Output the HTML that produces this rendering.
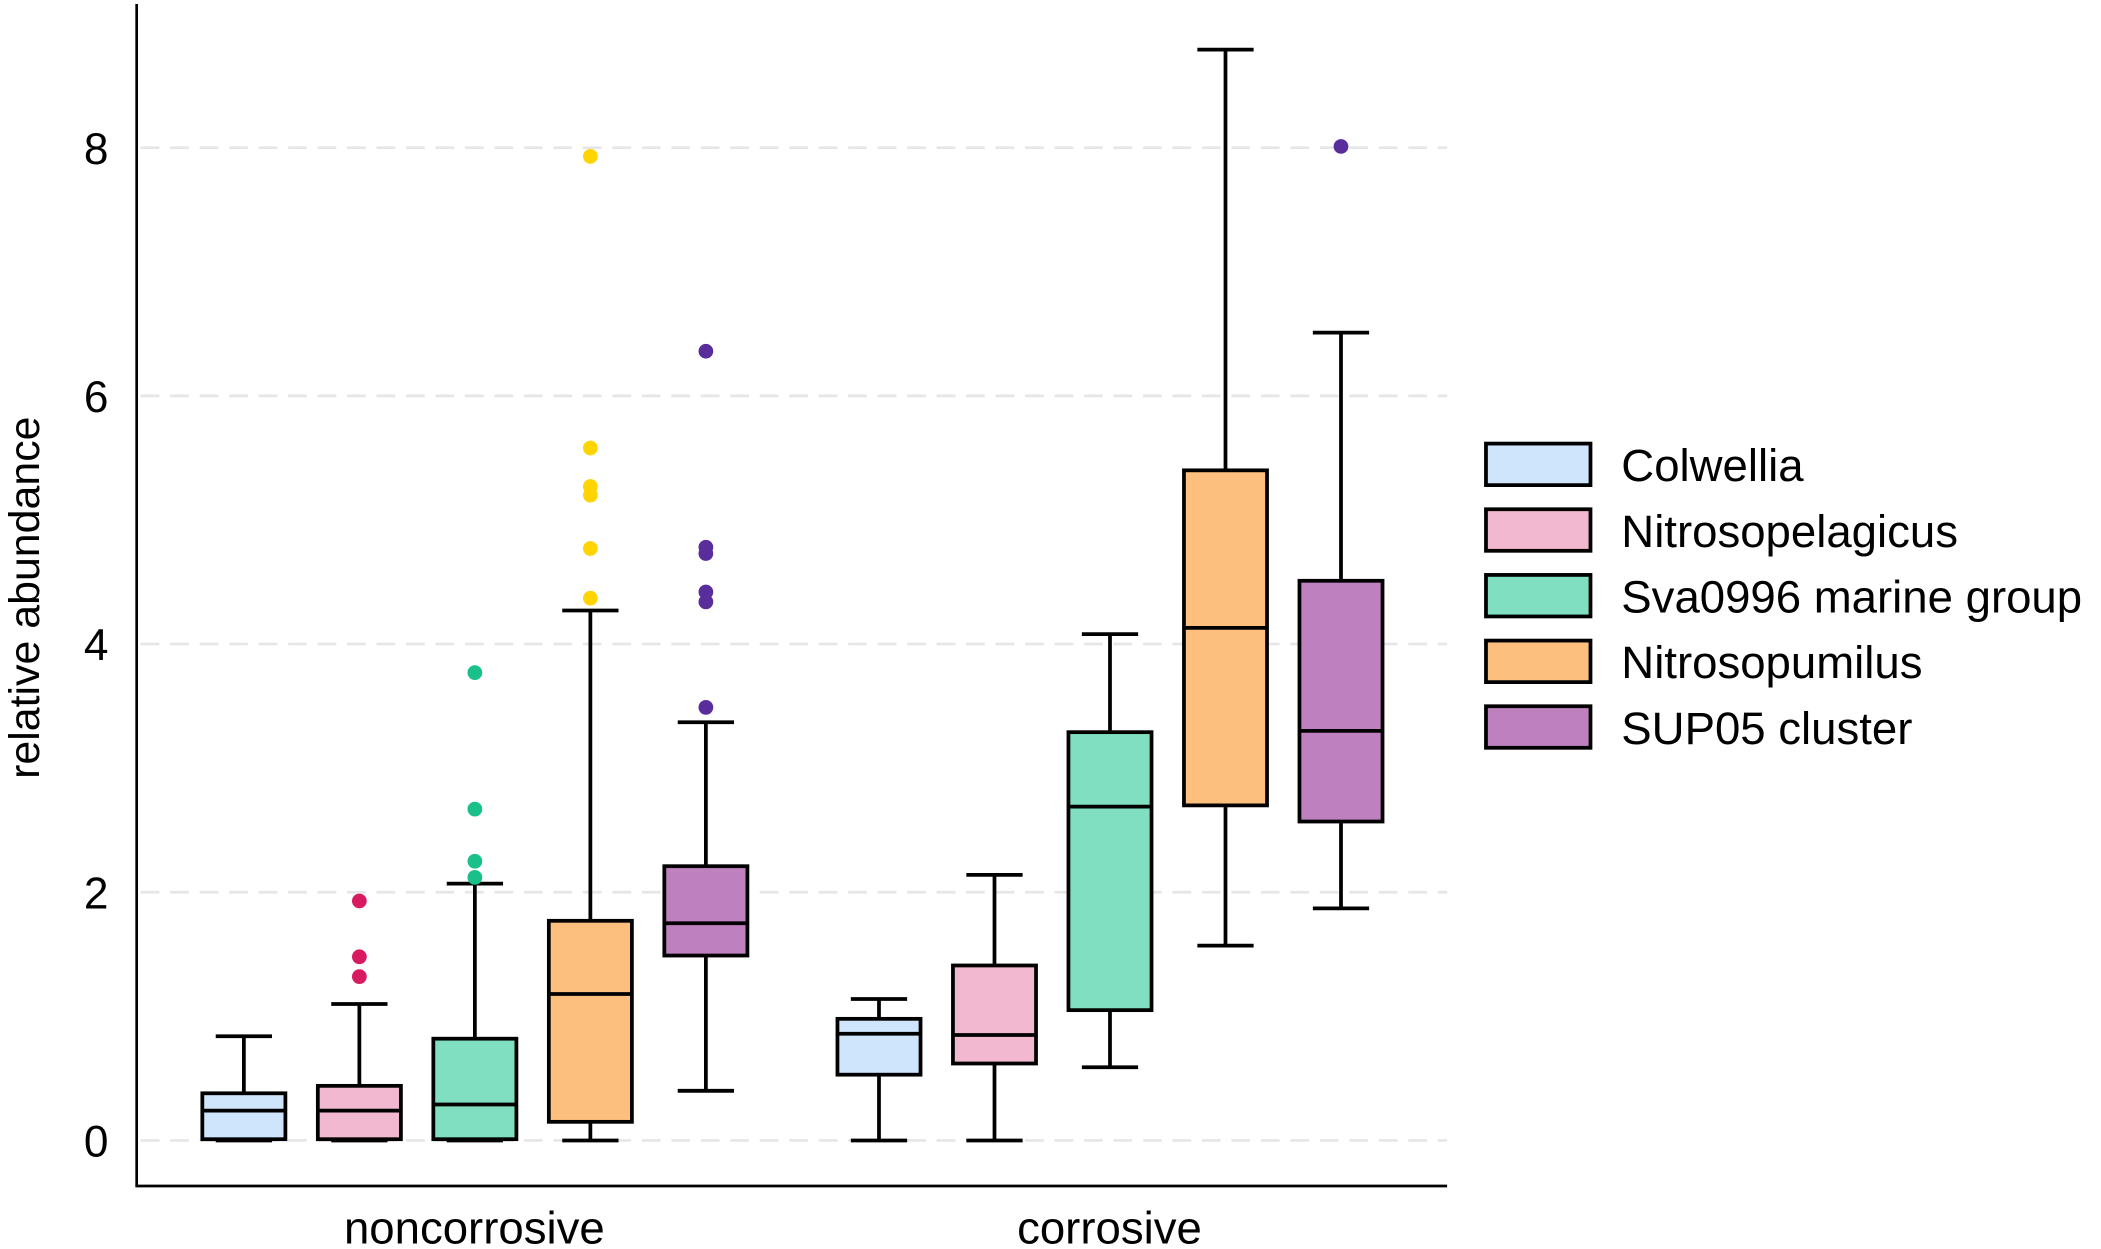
<!DOCTYPE html>
<html><head><meta charset="utf-8"><style>
html,body{margin:0;padding:0;background:#fff;}
svg{display:block;font-family:"Liberation Sans",Arial,sans-serif;}
</style></head><body>
<svg id="chart" width="2101" height="1249" viewBox="0 0 1568 932" preserveAspectRatio="none" xmlns="http://www.w3.org/2000/svg">
<g id="grid"></g><g id="marks"></g><g id="axes"></g><g id="legend"></g>
</svg>
<script>
const groups = ["noncorrosive","corrosive"];
const taxa = ["Colwellia","Nitrosopelagicus","Sva0996 marine group","Nitrosopumilus","SUP05 cluster"];
const fills = ["#cfe5fb","#f1b8cf","#80dfc0","#fdbf7e","#bf80bf"];
const outColors = ["#6fa8dc","#d81b60","#1ac08a","#ffd400","#5a2d9c"];
const yTicks = [0,2,4,6,8];
// [min, q1, median, q3, max] per group per taxon
const ncStats = [[0,0.01,0.24,0.38,0.84],[0,0.01,0.24,0.44,1.10],[0,0.01,0.29,0.82,2.07],[0,0.15,1.18,1.77,4.27],[0.40,1.49,1.75,2.21,3.37]];
const coStats = [[0,0.53,0.86,0.98,1.14],[0,0.62,0.85,1.41,2.14],[0.59,1.05,2.69,3.29,4.08],[1.57,2.70,4.13,5.40,8.79],[1.87,2.57,3.30,4.51,6.51]];
const ncOutliers = [[],[1.93,1.48,1.32],[3.77,2.67,2.25,2.12],[7.93,5.58,5.27,5.20,4.77,4.37],[6.36,4.78,4.73,4.42,4.34,3.49]];
const coOutliers = [[],[],[],[],[8.01]];

const NS="http://www.w3.org/2000/svg";
function mk(tag,attrs,parent){const e=document.createElementNS(NS,tag);for(const k in attrs)e.setAttribute(k,attrs[k]);parent.appendChild(e);return e;}
const y = v => 851 - v*92.6;
const groupStart = [182,656], step = 86.2;
const x = (g,i) => groupStart[g] + i*step;
const grid=document.getElementById('grid'), marks=document.getElementById('marks'), axes=document.getElementById('axes'), legend=document.getElementById('legend');
const SW=2.8;

yTicks.forEach(t=>{
  const l=mk('line',{x1:105,x2:1080,y1:y(t),y2:y(t),stroke:'#e6e6e6','stroke-width':2,'stroke-dasharray':'14,8'},grid);
  
  
  const tx=mk('text',{x:81,y:y(t)+12,'text-anchor':'end','font-size':33,fill:'#000'},axes);
  tx.textContent=t;
  
  
});

[ncStats,coStats].forEach((stats,g)=>{
  const outs = g===0?ncOutliers:coOutliers;
  stats.forEach((s,i)=>{
    const cx=x(g,i), w=62, cw=42;
    const gEl=mk('g',{},marks);
    
    
    mk('line',{x1:cx,x2:cx,y1:y(s[0]),y2:y(s[4]),stroke:'#000','stroke-width':SW},gEl);
    mk('line',{x1:cx-cw/2,x2:cx+cw/2,y1:y(s[0]),y2:y(s[0]),stroke:'#000','stroke-width':SW},gEl);
    mk('line',{x1:cx-cw/2,x2:cx+cw/2,y1:y(s[4]),y2:y(s[4]),stroke:'#000','stroke-width':SW},gEl);
    mk('rect',{x:cx-w/2,y:y(s[3]),width:w,height:y(s[1])-y(s[3]),fill:fills[i],stroke:'#000','stroke-width':SW},gEl);
    mk('line',{x1:cx-w/2,x2:cx+w/2,y1:y(s[2]),y2:y(s[2]),stroke:'#000','stroke-width':SW},gEl);
    outs[i].forEach(v=>{
      const c=mk('circle',{cx:cx,cy:y(v),r:5.5,fill:outColors[i]},marks);
      
      
    });
  });
  const gl=mk('text',{x:g===0?354:828,y:928,'text-anchor':'middle','font-size':34,fill:'#000'},axes);
  gl.textContent=groups[g];
  
  
});

const ax=mk('path',{d:'M102 3 V885 H1080',fill:'none',stroke:'#000','stroke-width':2},axes);


const yt=mk('text',{x:0,y:0,'text-anchor':'middle','font-size':32,fill:'#000',transform:'translate(29,446) rotate(-90)'},axes);
yt.textContent='relative abundance';



taxa.forEach((t,i)=>{
  const gy=331+i*49;
  const g=mk('g',{},legend);
  
  
  mk('rect',{x:1109,y:gy,width:78,height:31,fill:fills[i],stroke:'#000','stroke-width':SW},g);
  const tx=mk('text',{x:1210,y:gy+28,'font-size':34,fill:'#000'},g);
  tx.textContent=t;
});
</script>
</body></html>
